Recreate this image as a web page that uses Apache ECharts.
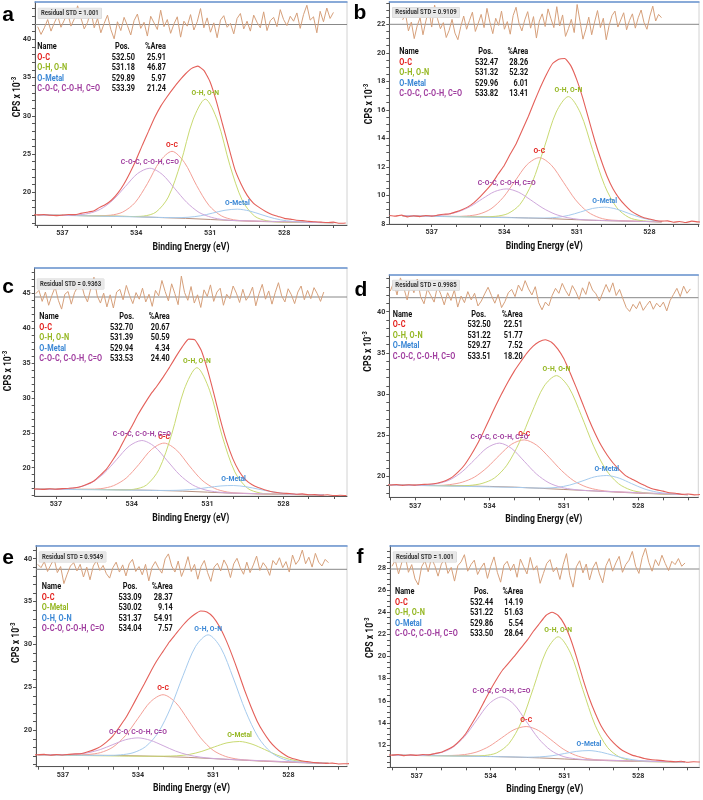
<!DOCTYPE html>
<html><head><meta charset="utf-8">
<script src="https://cdn.jsdelivr.net/npm/echarts@6/dist/echarts.min.js"></script>
<style>html,body{margin:0;padding:0;background:#fff}#c{width:703px;height:800px}</style>
</head><body><div id="c"></div>
<script>
// ---------------- DATA ----------------
const X_LABELS = [537, 534, 531, 528];
const X_TICKS = [538, 537, 536, 535, 534, 533, 532, 531, 530, 529, 528, 527, 526];
const DATA_E = [538.75,538.5,538.25,538,537.75,537.5,537.25,537,536.75,536.5,536.25,536,535.75,535.5,535.25,535,534.75,534.5,534.25,534,533.75,533.5,533.25,533,532.75,532.5,532.25,532,531.75,531.5,531.25,531,530.75,530.5,530.25,530,529.75,529.5,529.25,529,528.75,528.5,528.25,528,527.75,527.5,527.25,527,526.75,526.5,526.25,526,525.75,525.5];

// Panel a
const A_DATA = [17.05,17.0,17.08,17.05,17.1,17.0,16.95,17.02,17.1,17.08,17.25,17.4,17.55,18.0,18.4,19.0,19.9,21.1,22.6,24.3,26.2,28.0,29.8,31.3,32.5,33.6,34.6,35.5,36.2,36.5,35.9,34.4,31.9,28.9,25.9,23.0,21.1,19.6,18.6,18.0,17.5,17.1,16.85,16.6,16.5,16.35,16.3,16.2,16.15,16.1,16.05,16.1,15.95,16.0];
const A_BG = [[538,17.05],[537,17.0],[536,16.95],[535,16.9],[534,16.82],[533,16.7],[532,16.6],[531,16.45],[530,16.3],[529,16.19],[528,16.12],[527,16.07],[526,16.03]];
const A_OC = [[538,17.05],[535.55,16.95],[535.05,17.01],[534.55,17.42],[534.05,18.66],[533.55,21.13],[533.05,24.02],[532.55,25.36],[532.05,23.92],[531.55,20.88],[531.05,18.29],[530.55,16.93],[530.05,16.41],[529.55,16.27],[526,16.03]];
const A_OHON = [[538,17.05],[534.7,16.87],[534.2,16.84],[533.7,16.9],[533.2,17.42],[532.7,19.38],[532.2,23.81],[531.7,29.47],[531.2,32.18],[530.7,29.32],[530.2,23.51],[529.7,18.95],[529.2,16.89],[528.7,16.28],[528.2,16.14],[526,16.03]];
const A_OM = [[538,17.05],[533.4,16.75],[532.9,16.71],[532.4,16.69],[531.9,16.74],[531.4,16.93],[530.9,17.29],[530.4,17.66],[529.9,17.8],[529.4,17.56],[528.9,17.06],[528.4,16.58],[527.9,16.28],[527.4,16.14],[526.9,16.07],[526,16.03]];
const A_COC = [[538,17.05],[536.95,17.0],[536.45,17.04],[535.95,17.23],[535.45,17.8],[534.95,18.98],[534.45,20.74],[533.95,22.45],[533.45,23.15],[532.95,22.35],[532.45,20.53],[531.95,18.68],[531.45,17.37],[530.95,16.73],[530.45,16.42],[529.95,16.31],[526,16.03]];
const A_NAMES = ['O-C', 'O-H, O-N', 'O-Metal', 'C-O-C, C-O-H, C=O'];
const A_POS = ['532.50', '531.18', '529.89', '533.39'];
const A_AREA = ['25.91', '46.87', '5.97', '21.24'];
const A_STD = '1.001';
const A_RESID = [-0.4,-1.8,-0.6,0.9,-1.2,0.3,1.6,-0.5,0.8,2.2,-0.3,1.0,3.4,1.2,-0.8,0.4,2.5,-0.6,1.1,-1.5,0.2,1.7,-0.9,-2.6,0.5,-1.1,1.3,-0.2,-1.9,0.7,1.9,-0.7,0.4,-2.1,1.5,0.3,-0.9,2.6,-0.4,0.9,-1.6,0.1,1.4,-2.3,0.6,-0.3,1.8,-1.0,0.5,2.9,-0.6,1.2,-1.4,0.3,-2.4,0.8,1.6,-0.5,0.2,-1.7,1.1,2.0,-0.8,0.6,-1.2,1.7,0.4,-0.6,2.3,-1.1,0.7,1.3,-0.4,2.7,0.9,-0.2,1.5,0.6,2.1,-0.7,1.8,3.5,0.8,1.4,-1.5,2.4,0.5,3.0,1.1,2.2];
const A_YLABELS = [20, 25, 30, 35, 40];
const A_YTICKS = [16,17,18,19,20,21,22,23,24,25,26,27,28,29,30,31,32,33,34,35,36,37,38,39,40,41,42,43,44];

// Panel b
const B_DATA = [8.6,8.55,8.62,8.5,8.58,8.52,8.6,8.55,8.62,8.68,8.72,8.85,9.0,9.2,9.5,9.9,10.35,10.85,11.5,12.1,12.9,13.65,14.6,15.55,16.6,17.6,18.5,19.25,19.55,19.6,19.1,18.1,16.8,15.3,13.8,12.5,11.35,10.45,9.8,9.3,8.9,8.65,8.45,8.35,8.25,8.2,8.22,8.12,8.18,8.1,8.2,8.15,8.12,8.16];
const B_BG = [[538.2,8.57],[537,8.55],[536,8.53],[535,8.5],[534,8.47],[533,8.42],[532,8.37],[531,8.3],[530,8.24],[529,8.2],[528,8.17],[527.5,8.15]];
const B_OC = [[538.2,8.57],[536.05,8.53],[535.55,8.56],[535.05,8.69],[534.55,9.06],[534.05,9.85],[533.55,11.02],[533.05,12.17],[532.55,12.65],[532.05,12.12],[531.55,10.92],[531.05,9.69],[530.55,8.85],[530.05,8.43],[529.55,8.27],[527.5,8.15]];
const B_OHON = [[538.2,8.57],[534.85,8.5],[534.35,8.54],[533.85,8.73],[533.35,9.37],[532.85,10.88],[532.35,13.34],[531.85,15.85],[531.35,16.93],[530.85,15.78],[530.35,13.21],[529.85,10.7],[529.35,9.15],[528.85,8.46],[528.35,8.24],[527.5,8.15]];
const B_OM = [[538.2,8.57],[533.35,8.43],[532.85,8.42],[532.35,8.42],[531.85,8.46],[531.35,8.6],[530.85,8.84],[530.35,9.09],[529.85,9.18],[529.35,9.04],[528.85,8.74],[528.35,8.45],[527.85,8.26],[527.5,8.16]];
const B_COC = [[538.2,8.57],[537.4,8.56],[536.9,8.58],[536.4,8.66],[535.9,8.86],[535.4,9.23],[534.9,9.77],[534.4,10.27],[533.9,10.46],[533.4,10.22],[532.9,9.68],[532.4,9.11],[531.9,8.69],[531.4,8.45],[530.9,8.32],[530.4,8.27],[527.5,8.15]];
const B_NAMES = ['O-C', 'O-H, O-N', 'O-Metal', 'C-O-C, C-O-H, C=O'];
const B_POS = ['532.47', '531.32', '529.96', '533.82'];
const B_AREA = ['28.26', '52.32', '6.01', '13.41'];
const B_STD = '0.9109';
const B_RESID = [0.8,1.9,-1.2,0.4,-2.6,-0.3,1.2,-1.9,0.6,2.7,-0.5,3.5,1.0,-0.8,0.3,-2.4,-1.1,0.9,-1.6,-2.8,-0.4,1.5,-0.9,0.7,2.2,-1.3,0.2,1.8,-0.6,2.9,0.4,-1.7,1.1,-0.2,2.4,-0.9,0.5,-1.8,1.6,3.1,0.2,-1.2,0.8,2.3,-0.7,1.4,-2.5,0.6,1.9,-0.4,2.8,1.0,-0.6,3.2,-0.3,1.7,-2.2,-0.8,0.9,-1.5,3.6,0.5,-2.7,-0.9,1.3,-1.9,0.4,2.5,-0.6,1.1,-2.8,-0.2,1.6,2.4,-0.5,0.8,2.1,-1.0,0.7,1.9,-0.7,1.2,2.6,0.3,-0.9,1.5,3.3,0.6,1.8,1.2];
const B_YLABELS = [8, 10, 12, 14, 16, 18, 20, 22];
const B_YTICKS = [8,8.5,9,9.5,10,10.5,11,11.5,12,12.5,13,13.5,14,14.5,15,15.5,16,16.5,17,17.5,18,18.5,19,19.5,20,20.5,21,21.5,22,22.5,23,23.5];

// Panel c
const C_DATA = [16.95,16.9,16.98,16.93,16.95,16.9,16.98,16.92,17.0,17.05,17.12,17.3,17.65,18.1,18.9,19.8,21.1,22.55,24.3,25.9,27.6,29.1,30.5,31.7,33.0,34.4,35.9,37.3,38.4,38.3,36.8,34.0,30.6,27.0,23.8,21.3,19.5,18.3,17.6,17.15,16.85,16.6,16.45,16.35,16.3,16.2,16.25,16.12,16.15,16.05,16.12,16.0,16.05,16.0];
const C_BG = [[537.8,16.93],[537,16.92],[536,16.9],[535,16.87],[534,16.82],[533,16.75],[532,16.65],[531,16.5],[530,16.35],[529,16.25],[528,16.18],[527,16.12],[526.4,16.1]];
const C_OC = [[537.8,16.93],[536.22,16.9],[535.72,16.92],[535.22,17.0],[534.72,17.43],[534.22,18.51],[533.72,20.46],[533.22,22.6],[532.72,23.52],[532.22,22.5],[531.72,20.27],[531.22,18.22],[530.72,17.04],[530.22,16.52],[529.72,16.35],[526.4,16.1]];
const C_OHON = [[537.8,16.93],[534.92,16.86],[534.42,16.82],[533.92,16.91],[533.42,17.51],[532.92,19.75],[532.42,24.77],[531.92,31.23],[531.42,34.32],[530.92,31.09],[530.42,24.53],[529.92,19.4],[529.42,17.07],[528.92,16.38],[528.42,16.23],[526.4,16.1]];
const C_OM = [[537.8,16.93],[533.47,16.77],[532.97,16.75],[532.47,16.75],[531.97,16.8],[531.47,16.94],[530.97,17.17],[530.47,17.39],[529.97,17.45],[529.47,17.27],[528.97,16.92],[528.47,16.57],[527.97,16.33],[527.47,16.2],[526.97,16.13],[526.4,16.1]];
const C_COC = [[537.8,16.93],[537.1,16.92],[536.6,16.98],[536.1,17.21],[535.6,17.84],[535.1,19.18],[534.6,21.15],[534.1,23.09],[533.6,23.89],[533.1,23.03],[532.6,21.02],[532.1,18.97],[531.6,17.56],[531.1,16.83],[530.6,16.52],[530.1,16.38],[526.4,16.1]];
const C_NAMES = ['O-C', 'O-H, O-N', 'O-Metal', 'C-O-C, C-O-H, C=O'];
const C_POS = ['532.70', '531.39', '529.94', '533.53'];
const C_AREA = ['20.67', '50.59', '4.34', '24.40'];
const C_STD = '0.9363';
const C_RESID = [0.6,1.2,-0.8,0.9,-1.5,0.3,1.8,-0.6,-2.2,0.5,1.0,-1.3,0.8,1.9,2.6,0.4,-0.9,1.5,3.6,0.2,-1.1,0.7,-1.8,0.4,-2.0,0.9,1.4,-0.5,2.1,0.3,-1.2,0.8,-0.4,1.6,-0.9,0.5,-1.7,1.2,0.2,3.0,1.0,-0.7,2.4,0.6,-1.4,3.8,0.8,-0.6,1.9,-1.1,0.4,-1.9,1.3,0.1,2.2,-0.8,0.9,1.6,-1.5,0.5,-0.3,2.0,0.7,-1.0,1.4,-0.6,0.3,1.8,-1.6,0.6,2.3,-0.4,1.1,-1.3,0.8,2.6,0.2,-0.9,1.5,0.4,-1.2,0.9,2.0,-0.5,1.2,-0.3,1.7,0.6,-0.8,0.9];
const C_YLABELS = [20, 25, 30, 35, 40, 45];
const C_YTICKS = [16,17,18,19,20,21,22,23,24,25,26,27,28,29,30,31,32,33,34,35,36,37,38,39,40,41,42,43,44,45,46,47,48];

// Panel d
const D_DATA = [19.0,18.95,19.05,19.0,19.05,18.95,19.02,18.98,19.05,19.08,19.15,19.3,19.55,19.95,20.6,21.45,22.6,23.9,25.4,27.0,28.6,30.1,31.5,32.8,33.9,34.95,35.8,36.35,36.6,36.3,35.5,34.3,32.6,30.8,28.9,27.0,25.3,23.8,22.6,21.6,20.8,20.1,19.7,19.3,18.95,18.6,18.4,18.25,18.05,18.0,17.85,17.9,17.8,17.85];
const D_BG = [[538.04,19.0],[537,18.97],[536,18.93],[535,18.88],[534,18.82],[533,18.73],[532,18.6],[531,18.45],[530,18.3],[529,18.15],[528,18.0],[527,17.9],[526,17.82]];
const D_OC = [[538.04,19.0],[536.1,18.93],[535.6,19.04],[535.1,19.33],[534.6,19.96],[534.1,21.1],[533.6,22.6],[533.1,23.95],[532.6,24.46],[532.1,23.82],[531.6,22.36],[531.1,20.76],[530.6,19.5],[530.1,18.76],[529.6,18.38],[529.1,18.2],[526,17.82]];
const D_OHON = [[538.04,19.0],[535.3,18.89],[534.8,18.94],[534.3,19.18],[533.8,19.84],[533.3,21.39],[532.8,24.13],[532.3,27.73],[531.8,30.97],[531.3,32.25],[530.8,30.82],[530.3,27.44],[529.8,23.7],[529.3,20.83],[528.8,19.16],[528.3,18.38],[527.8,18.07],[527.3,17.94],[526,17.82]];
const D_OM = [[538.04,19.0],[532.77,18.69],[532.27,18.63],[531.77,18.62],[531.27,18.7],[530.77,18.98],[530.27,19.46],[529.77,19.97],[529.27,20.14],[528.77,19.82],[528.27,19.16],[527.77,18.53],[527.27,18.14],[526.77,17.94],[526.27,17.85],[526,17.82]];
const D_COC = [[538.04,19.0],[537.1,18.97],[536.6,19.01],[536.1,19.16],[535.6,19.62],[535.1,20.61],[534.6,22.06],[534.1,23.49],[533.6,24.07],[533.1,23.4],[532.6,21.87],[532.1,20.31],[531.6,19.25],[531.1,18.7],[530.6,18.45],[530.1,18.32],[526,17.82]];
const D_NAMES = ['O-C', 'O-H, O-N', 'O-Metal', 'C-O-C, C-O-H, C=O'];
const D_POS = ['532.50', '531.22', '529.27', '533.51'];
const D_AREA = ['22.51', '51.77', '7.52', '18.20'];
const D_STD = '0.9985';
const D_RESID = [1.2,2.8,0.5,3.6,1.8,-0.4,2.6,0.9,3.4,0.2,-1.1,1.6,0.4,-0.8,2.1,0.6,-1.3,0.9,-0.5,1.4,-1.7,0.3,-0.9,1.1,-0.4,0.8,-1.5,-0.6,0.7,1.9,0.4,-1.0,0.6,-1.8,-0.7,0.9,1.5,0.2,2.3,1.2,3.1,1.6,0.5,2.0,-0.9,-2.2,-0.8,-1.5,0.4,1.7,0.8,2.6,1.3,0.3,2.2,1.1,-0.3,1.8,0.6,2.9,1.4,0.7,-0.6,0.9,2.4,1.0,2.7,0.4,1.5,-0.2,-1.8,-2.5,-1.2,-2.0,-0.7,-2.3,-1.4,-0.6,-2.1,-1.0,-1.7,-0.8,-2.4,-0.5,0.6,1.7,0.2,2.1,0.8,1.6];
const D_YLABELS = [20, 25, 30, 35, 40];
const D_YTICKS = [18,19,20,21,22,23,24,25,26,27,28,29,30,31,32,33,34,35,36,37,38,39,40,41,42,43,44];

// Panel e
const E_DATA = [17.15,17.2,17.12,17.15,17.2,17.1,17.18,17.12,17.2,17.25,17.3,17.5,17.75,18.1,18.65,19.35,20.35,21.4,22.7,24.05,25.4,26.8,28.1,29.2,30.3,31.2,32.1,32.9,33.5,33.9,33.8,33.2,32.1,30.6,28.8,26.8,24.7,22.8,21.1,19.8,18.75,17.95,17.35,16.9,16.65,16.45,16.35,16.25,16.2,16.15,16.18,16.08,16.1,16.12];
const E_BG = [[538,17.15],[537,17.13],[536,17.1],[535,17.07],[534,17.02],[533,16.95],[532,16.85],[531,16.7],[530,16.55],[529,16.4],[528,16.28],[527,16.18],[526.4,16.15]];
const E_OC = [[538,17.15],[536.5,17.13],[536,17.18],[535.5,17.4],[535,18.04],[534.5,19.39],[534,21.39],[533.5,23.33],[533,24.15],[532.5,23.25],[532,21.22],[531.5,19.12],[531,17.67],[530.5,16.95],[530,16.63],[529.5,16.5],[526.4,16.15]];
const E_OM = [[538,17.15],[533.45,16.98],[532.95,16.99],[532.45,17.03],[531.95,17.19],[531.45,17.55],[530.95,18.07],[530.45,18.54],[529.95,18.7],[529.45,18.39],[528.95,17.77],[528.45,17.11],[527.95,16.62],[527.45,16.35],[526.95,16.22],[526.4,16.15]];
const E_OHON = [[538,17.15],[535.2,17.07],[534.7,17.14],[534.2,17.38],[533.7,18.09],[533.2,19.71],[532.7,22.61],[532.2,26.39],[531.7,29.79],[531.2,31.13],[530.7,29.64],[530.2,26.1],[529.7,22.19],[529.2,19.18],[528.7,17.45],[528.2,16.65],[527.7,16.34],[527.2,16.22],[526.4,16.15]];
const E_OCO = [[538,17.15],[537.5,17.14],[537,17.15],[536.5,17.21],[536,17.38],[535.5,17.76],[535,18.34],[534.5,18.9],[534,19.12],[533.5,18.83],[533,18.22],[532.5,17.58],[532,17.13],[531.5,16.87],[531,16.72],[530.5,16.63],[526.4,16.15]];
const E_NAMES = ['O-C', 'O-Metal', 'O-H, O-N', 'O-C-O, C-O-H, C=O'];
const E_POS = ['533.09', '530.02', '531.37', '534.04'];
const E_AREA = ['28.37', '9.14', '54.91', '7.57'];
const E_STD = '0.9549';
const E_RESID = [0.9,0.3,1.4,-0.4,0.8,1.9,-0.6,0.5,-2.6,-0.9,0.6,1.2,-0.3,0.9,-1.4,0.4,-1.9,0.6,1.6,-0.2,0.7,-0.8,-1.6,0.3,1.3,-0.5,0.8,-1.2,1.0,1.8,-0.4,0.5,-1.0,0.9,-2.1,0.4,1.4,0.2,-0.7,1.9,2.8,0.6,-0.5,1.5,-1.3,0.2,2.3,-0.4,0.9,-1.8,0.5,1.6,-0.6,-2.2,0.4,1.1,-0.3,1.7,0.6,-1.5,1.0,2.0,0.3,-0.9,1.3,-0.6,0.8,2.4,-0.2,1.2,0.4,-1.1,1.6,0.8,2.1,0.3,1.4,-0.5,2.6,0.9,1.7,3.5,1.0,2.2,0.4,2.9,1.3,0.6,1.8,1.2];
const E_YLABELS = [20, 25, 30, 35, 40];
const E_YTICKS = [16,17,18,19,20,21,22,23,24,25,26,27,28,29,30,31,32,33,34,35,36,37,38,39,40,41];

// Panel f
const F_DATA = [11.1,11.05,11.12,11.1,11.15,11.05,11.12,11.08,11.15,11.12,11.25,11.35,11.6,11.9,12.4,13.05,13.95,14.9,15.95,17.0,17.95,18.8,19.45,20.1,20.8,21.5,22.3,23.0,23.7,24.0,23.7,22.9,21.6,19.9,18.0,16.3,14.9,13.7,12.85,12.2,11.7,11.35,11.1,10.95,10.8,10.7,10.65,10.6,10.55,10.5,10.55,10.45,10.5,10.48];
const F_BG = [[538,11.1],[537,11.08],[536,11.06],[535,11.03],[534,10.98],[533,10.92],[532,10.85],[531,10.75],[530,10.66],[529,10.58],[528,10.53],[527,10.5],[526.1,10.48]];
const F_OC = [[538,11.1],[536.05,11.06],[535.55,11.07],[535.05,11.15],[534.55,11.39],[534.05,11.89],[533.55,12.65],[533.05,13.39],[532.55,13.68],[532.05,13.32],[531.55,12.5],[531.05,11.65],[530.55,11.09],[530.05,10.78],[529.55,10.66],[526.1,10.48]];
const F_OHON = [[538,11.1],[534.75,11.01],[534.25,11.06],[533.75,11.3],[533.25,12.14],[532.75,14.07],[532.25,17.2],[531.75,20.42],[531.25,21.78],[530.75,20.31],[530.25,17.01],[529.75,13.8],[529.25,11.8],[528.75,10.91],[528.25,10.61],[527.75,10.52],[526.1,10.48]];
const F_OM = [[538,11.1],[533.5,10.95],[533,10.93],[532.5,10.91],[532,10.94],[531.5,11.04],[531,11.24],[530.5,11.44],[530,11.51],[529.5,11.36],[529,11.07],[528.5,10.79],[528,10.62],[527.5,10.54],[527,10.51],[526.1,10.48]];
const F_COC = [[538,11.1],[537.05,11.08],[536.55,11.13],[536.05,11.3],[535.55,11.77],[535.05,12.78],[534.55,14.29],[534.05,15.75],[533.55,16.35],[533.05,15.69],[532.55,14.16],[532.05,12.6],[531.55,11.53],[531.05,10.98],[530.55,10.77],[530.05,10.68],[526.1,10.48]];
const F_NAMES = ['O-C', 'O-H, O-N', 'O-Metal', 'C-O-C, C-O-H, C=O'];
const F_POS = ['532.44', '531.22', '529.86', '533.50'];
const F_AREA = ['14.19', '51.63', '5.54', '28.64'];
const F_STD = '1.001';
const F_RESID = [0.5,1.6,-0.9,1.2,2.4,-0.6,0.8,-1.8,-2.9,0.4,1.5,-0.5,2.0,0.6,-1.3,0.9,1.8,-0.8,0.3,-2.2,0.6,1.3,2.6,-0.4,0.8,1.6,-1.0,0.2,1.1,-1.7,0.5,2.2,-0.6,-2.4,0.7,1.4,-0.3,0.9,-1.5,1.8,0.4,-0.9,2.1,-0.2,0.6,-2.6,-0.8,1.0,1.7,-0.5,0.3,-1.9,0.8,2.8,-1.2,-3.3,0.4,1.5,-0.7,0.9,-2.0,0.2,1.3,-0.9,-2.5,0.6,1.9,-0.4,1.1,2.3,-0.6,0.8,1.6,3.2,0.5,-0.8,2.1,3.8,1.2,-0.4,1.7,0.6,2.5,1.0,-0.3,1.4,0.8,1.9,0.5,1.1];
const F_YLABELS = [12, 14, 16, 18, 20, 22, 24, 26, 28];
const F_YTICKS = [10,10.5,11,11.5,12,12.5,13,13.5,14,14.5,15,15.5,16,16.5,17,17.5,18,18.5,19,19.5,20,20.5,21,21.5,22,22.5,23,23.5,24,24.5,25,25.5,26,26.5,27,27.5,28,28.5,29,29.5];

// ---------------- LAYOUT / STYLE ----------------
const FONT = 'Roboto, "Liberation Sans", sans-serif';
const TXT = ['#e3211d', '#95b722', '#3a87d5', '#a03e9f'];
const CURVE = ['#f4a097', '#c9da72', '#a6cbee', '#cfa8dc'];

const LAYOUT = [
  {left:35, top:2, right:347, bottom:225, xmin:525.45, xmax:538.11, ymin:15.73, ymax:44.88, resBase:24.5, resFrom:538.0, resTo:526.0, letter:[8,15], std:[3.3,11.3], tab:[2.3,44.7,100,80,131], yName:[-18,95]},
  {left:389.3, top:2, right:699, bottom:224, xmin:525.95, xmax:538.75, ymin:8, ymax:23.56, resBase:24.3, resFrom:538.2, resTo:527.5, letter:[360,13], std:[3.4,10.5], tab:[10,49.7,109,89,139], yName:[-20,102]},
  {left:34.7, top:268, right:347, bottom:496, xmin:525.48, xmax:537.84, ymin:15.95, ymax:48.58, resBase:297, resFrom:537.8, resTo:526.4, letter:[8,287], std:[2.6,16], tab:[4.6,48.7,98.6,84.6,135], yName:[-26,103]},
  {left:389.3, top:275, right:698.3, bottom:497.3, xmin:525.58, xmax:538.04, ymin:17.5, ymax:44.45, resBase:297.7, resFrom:538.0, resTo:525.9, letter:[361,290], std:[3.4,10.3], tab:[3.4,39.3,101.4,82,133.4], yName:[-21,76.5]},
  {left:36, top:545.7, right:347, bottom:766.7, xmin:525.66, xmax:538.07, ymin:15.76, ymax:41.52, resBase:569.3, resFrom:538.0, resTo:526.4, letter:[8,558], std:[3.3,11.3], tab:[5.7,41,105.7,86.7,136.7], yName:[-20,97]},
  {left:390, top:545.7, right:699.3, bottom:767.3, xmin:525.52, xmax:538.08, ymin:10, ymax:30, resBase:569, resFrom:538.0, resTo:526.1, letter:[360,557], std:[3.3,11.3], tab:[5,46,103.3,84,133.3], yName:[-20,92]}
];

const PANELS = [
  {label:'a', data:A_DATA, bg:A_BG, comps:[A_OC,A_OHON,A_OM,A_COC], names:A_NAMES, pos:A_POS, area:A_AREA, std:A_STD, resid:A_RESID, yl:A_YLABELS, yt:A_YTICKS},
  {label:'b', data:B_DATA, bg:B_BG, comps:[B_OC,B_OHON,B_OM,B_COC], names:B_NAMES, pos:B_POS, area:B_AREA, std:B_STD, resid:B_RESID, yl:B_YLABELS, yt:B_YTICKS},
  {label:'c', data:C_DATA, bg:C_BG, comps:[C_OC,C_OHON,C_OM,C_COC], names:C_NAMES, pos:C_POS, area:C_AREA, std:C_STD, resid:C_RESID, yl:C_YLABELS, yt:C_YTICKS},
  {label:'d', data:D_DATA, bg:D_BG, comps:[D_OC,D_OHON,D_OM,D_COC], names:D_NAMES, pos:D_POS, area:D_AREA, std:D_STD, resid:D_RESID, yl:D_YLABELS, yt:D_YTICKS},
  {label:'e', data:E_DATA, bg:E_BG, comps:[E_OC,E_OM,E_OHON,E_OCO], names:E_NAMES, pos:E_POS, area:E_AREA, std:E_STD, resid:E_RESID, yl:E_YLABELS, yt:E_YTICKS},
  {label:'f', data:F_DATA, bg:F_BG, comps:[F_OC,F_OHON,F_OM,F_COC], names:F_NAMES, pos:F_POS, area:F_AREA, std:F_STD, resid:F_RESID, yl:F_YLABELS, yt:F_YTICKS}
];

// ---------------- BUILD ----------------
const grids = [], xAxes = [], yAxes = [], series = [], graphics = [];

PANELS.forEach((P, i) => {
  const L = LAYOUT[i];
  const W = L.right - L.left, H = L.bottom - L.top;
  const px = e => L.left + (L.xmax - e) / (L.xmax - L.xmin) * W;

  const gMain = grids.length;
  grids.push({left:L.left, top:L.top, width:W, height:H, show:true, borderColor:'#d2d2d2', borderWidth:1, backgroundColor:'#ffffff', containLabel:false, outerBoundsMode:'none'});
  const xMain = xAxes.length;
  xAxes.push({gridIndex:gMain, type:'value', min:L.xmin, max:L.xmax, inverse:true, position:'bottom',
    axisLine:{show:true, onZero:false, lineStyle:{color:'#555', width:1}},
    axisTick:{show:true, customValues:X_TICKS, length:3, lineStyle:{color:'#555', width:1}},
    axisLabel:{show:true, customValues:X_LABELS, fontSize:7.2, fontWeight:'bold', color:'#333', margin:5, fontFamily:FONT},
    splitLine:{show:false}});
  xAxes.push({gridIndex:gMain, type:'value', min:L.xmin, max:L.xmax, inverse:true, position:'top',
    axisLine:{show:true, onZero:false, lineStyle:{color:'#6a95d2', width:1.5}},
    axisTick:{show:false}, axisLabel:{show:false}, splitLine:{show:false}});
  const yMain = yAxes.length;
  yAxes.push({gridIndex:gMain, type:'value', min:L.ymin, max:L.ymax,
    axisLine:{show:true, onZero:false, lineStyle:{color:'#555', width:1}},
    axisTick:{show:true, customValues:P.yt, length:3, lineStyle:{color:'#555', width:1}},
    axisLabel:{show:true, customValues:P.yl, fontSize:7.2, fontWeight:'bold', color:'#333', margin:4, fontFamily:FONT},
    splitLine:{show:false}});

  const rl = px(L.resFrom), rr = px(L.resTo);
  const gRes = grids.length;
  grids.push({left:rl, top:L.resBase - 22, width:rr - rl, height:44, show:false, containLabel:false, outerBoundsMode:'none'});
  const xRes = xAxes.length;
  xAxes.push({gridIndex:gRes, type:'category', show:false, boundaryGap:false, data:P.resid.map((_, k) => k)});
  const yRes = yAxes.length;
  yAxes.push({gridIndex:gRes, type:'value', show:false, min:-4, max:4});

  series.push({type:'line', xAxisIndex:xMain, yAxisIndex:yMain, data:P.bg, symbol:'none', silent:true,
    lineStyle:{color:'#b8917f', width:1}, z:2, animation:false});
  P.comps.forEach((c, k) => {
    series.push({type:'line', xAxisIndex:xMain, yAxisIndex:yMain, data:c, symbol:'none', smooth:0.3, silent:true,
      lineStyle:{color:CURVE[k], width:1}, z:3, animation:false,
      markPoint:{symbol:'circle', symbolSize:1, itemStyle:{color:'rgba(0,0,0,0)'}, silent:true, animation:false,
        data:[{type:'max'}],
        label:{show:true, position:'top', distance:2, formatter:P.names[k], color:TXT[k], fontSize:6.8, fontWeight:'bold', fontFamily:FONT}}});
  });
  series.push({type:'line', xAxisIndex:xMain, yAxisIndex:yMain, data:DATA_E.map((e, k) => [e, P.data[k]]), symbol:'none', smooth:0.15, silent:true,
    lineStyle:{color:'#e4605a', width:1.1}, z:4, animation:false});
  series.push({type:'line', xAxisIndex:xRes, yAxisIndex:yRes, data:P.resid, symbol:'none', silent:true,
    lineStyle:{color:'#d6a07b', width:1}, z:3, animation:false});

  graphics.push({type:'line', silent:true, z:1, shape:{x1:L.left, y1:L.resBase, x2:L.right, y2:L.resBase}, style:{stroke:'#888', lineWidth:1}});
  graphics.push({type:'text', x:L.letter[0], y:L.letter[1], z:100,
    style:{text:P.label, fill:'#000', fontSize:21, fontWeight:'bold', fontFamily:'"Liberation Sans", Arial, sans-serif', align:'center', verticalAlign:'middle', textAlign:'center', textVerticalAlign:'middle'}});
  graphics.push({type:'text', x:L.left + L.std[0], y:L.top + L.std[1], z:100, scaleX:0.88,
    style:{text:'Residual STD = ' + P.std, fill:'#333', fontSize:6.8, fontWeight:'bold', fontFamily:FONT, backgroundColor:'#e8e8e8', borderColor:'#cfcfcf', borderWidth:0.5, padding:[1.5, 3, 1.5, 3], verticalAlign:'middle', textVerticalAlign:'middle'}});
  const tx = L.left + L.tab[0], ty = L.top + L.tab[1];
  const tfont = {fontSize:9.2, fontWeight:'bold', fontFamily:FONT, verticalAlign:'middle', textVerticalAlign:'middle'};
  const T = (x, y, text, fill, right) => graphics.push({type:'text', x:x, y:y, z:100, scaleX:0.8,
    style:Object.assign({text:text, fill:fill}, tfont, right ? {align:'right', textAlign:'right'} : {})});
  T(tx, ty, 'Name', '#111', false);
  T(L.left + L.tab[3], ty, 'Pos.', '#111', false);
  T(L.left + L.tab[4], ty, '%Area', '#111', true);
  P.names.forEach((n, k) => {
    const yy = ty + (k + 1) * 10.5;
    T(tx, yy, n, TXT[k], false);
    T(L.left + L.tab[2], yy, P.pos[k], '#111', true);
    T(L.left + L.tab[4], yy, P.area[k], '#111', true);
  });
  graphics.push({type:'text', x:(L.left + L.right) / 2, y:L.bottom + 22, z:100, scaleX:0.8,
    style:{text:'Binding Energy (eV)', fill:'#111', fontSize:10.8, fontWeight:'bold', fontFamily:FONT, align:'center', verticalAlign:'middle', textAlign:'center', textVerticalAlign:'middle'}});
  graphics.push({type:'text', x:L.left + L.yName[0], y:L.top + L.yName[1], rotation:Math.PI / 2, scaleX:0.86, z:100,
    style:{text:'{m|CPS x 10}{s|-3}', align:'center', verticalAlign:'middle', textAlign:'center', textVerticalAlign:'middle',
      rich:{m:{fontSize:10, fontWeight:'bold', fontFamily:FONT, fill:'#111'}, s:{fontSize:6.5, fontWeight:'bold', fontFamily:FONT, fill:'#111', padding:[0, 0, 6, 0]}}}});
});

const chart = echarts.init(document.getElementById('c'), null, {renderer:'canvas', width:703, height:800});
chart.setOption({
  animation:false,
  backgroundColor:'#ffffff',
  grid:grids, xAxis:xAxes, yAxis:yAxes, series:series, graphic:graphics
});
</script></body></html>
